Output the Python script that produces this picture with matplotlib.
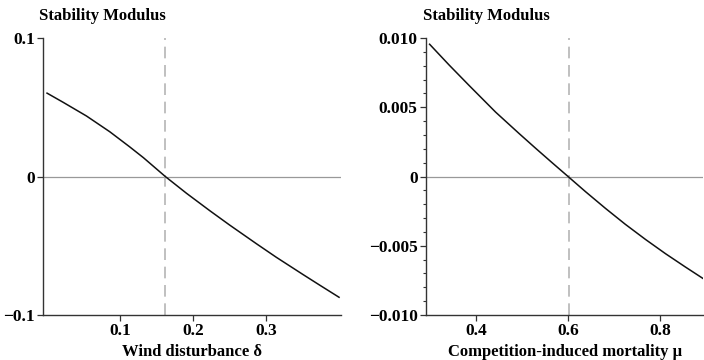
import matplotlib
matplotlib.use('Agg')
import matplotlib.pyplot as plt
import numpy as np
from matplotlib.ticker import MultipleLocator

plt.rcParams['font.family'] = ['Liberation Serif', 'DejaVu Serif']
plt.rcParams['font.weight'] = 'bold'

# left panel: stability modulus vs wind disturbance
delta = [0.0, 0.022, 0.054, 0.086, 0.113, 0.132, 0.162, 0.191, 0.223,
         0.250, 0.287, 0.314, 0.351, 0.374, 0.400]
mod_delta = [0.0602, 0.0536, 0.0437, 0.0323, 0.0215, 0.0136, 0.0, -0.0121, -0.0247,
             -0.0350, -0.0486, -0.0583, -0.0709, -0.0786, -0.0872]
delta_crit = 0.162

# right panel: stability modulus vs competition-induced mortality
mu = [0.300, 0.342, 0.386, 0.443, 0.494, 0.530, 0.566, 0.600, 0.638, 0.681,
      0.724, 0.768, 0.811, 0.854, 0.895]
mod_mu = [0.00955, 0.00806, 0.00656, 0.00465, 0.00310, 0.00203, 0.00098, 0.0,
          -0.00110, -0.00230, -0.00345, -0.00455, -0.00557, -0.00653, -0.00742]
mu_crit = 0.601

left_yticks = [-0.1, 0, 0.1]
left_ylabels = ['\u22120.1', '0', '0.1']
left_xticks = [0.1, 0.2, 0.3]
right_yticks = [-0.010, -0.005, 0, 0.005, 0.010]
right_ylabels = ['\u22120.010', '\u22120.005', '0', '0.005', '0.010']
right_xticks = [0.4, 0.6, 0.8]

fig = plt.figure(figsize=(7.04, 3.6), dpi=100)
ax1 = fig.add_axes([0.0611, 0.125, 0.4233, 0.7694])
ax2 = fig.add_axes([0.605, 0.125, 0.394, 0.7694])


def style(ax, xs, ys, xcrit, xlim, ylim, xticks, yticks, ylabels, xlabel):
    ax.axhline(0, color='#999999', lw=0.9, zorder=1)
    ax.axvline(xcrit, color='#b5b5b5', lw=1.2, dashes=(7, 4), zorder=1)
    ax.plot(xs, ys, color='#111111', lw=1.1, zorder=3)
    ax.set_xlim(*xlim)
    ax.set_ylim(*ylim)
    ax.set_xticks(xticks)
    ax.set_xticklabels([('%g' % t) for t in xticks])
    ax.set_yticks(yticks)
    ax.set_yticklabels(ylabels)
    for s in ['top', 'right']:
        ax.spines[s].set_visible(False)
    for s in ['left', 'bottom']:
        ax.spines[s].set_color('#333333')
        ax.spines[s].set_linewidth(1.0)
    ax.tick_params(direction='out', length=4, width=0.9, color='#333333',
                   labelsize=12.5, pad=2)
    ax.tick_params(which='minor', direction='out', length=2.5, width=0.8, color='#333333')
    ax.set_xlabel(xlabel, fontsize=12, fontweight='bold', labelpad=3)
    ax.text(-0.012, 1.05, 'Stability Modulus', transform=ax.transAxes,
            fontsize=12, fontweight='bold', ha='left', va='bottom')


style(ax1, delta, mod_delta, delta_crit, (-0.0055, 0.4027), (-0.1, 0.1),
      left_xticks, left_yticks, left_ylabels, 'Wind disturbance \u03b4')
style(ax2, mu, mod_mu, mu_crit, (0.292, 0.893), (-0.010, 0.010),
      right_xticks, right_yticks, right_ylabels, 'Competition-induced mortality \u03bc')
ax2.yaxis.set_minor_locator(MultipleLocator(0.001))

fig.savefig('out.png', dpi=100)
